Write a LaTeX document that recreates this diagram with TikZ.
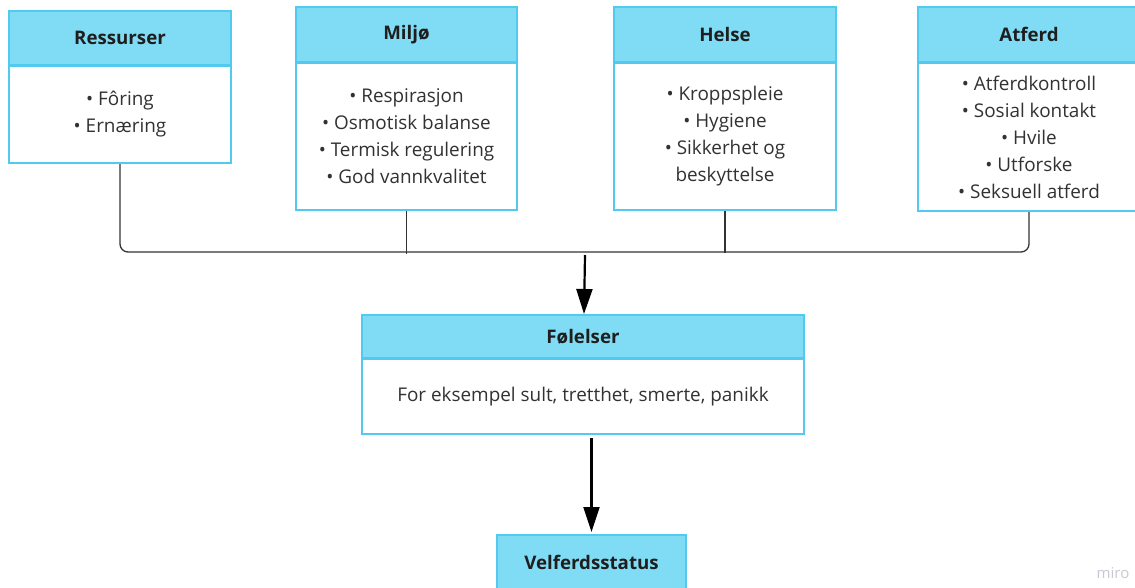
\documentclass[tikz,border=0pt]{standalone}
\usepackage{fontspec}
\setmainfont{Open Sans}
\usetikzlibrary{positioning,arrows.meta}

\definecolor{cardhead}{RGB}{128,220,245}
\definecolor{cardline}{RGB}{82,202,240}
\definecolor{titletext}{RGB}{30,30,30}
\definecolor{bodytext}{RGB}{50,50,50}
\definecolor{mirogrey}{RGB}{200,200,210}

\tikzset{
	head/.style={draw=cardline, fill=cardhead, line width=2pt, minimum width=222pt, minimum height=55pt, inner sep=0pt, text=titletext, font=\bfseries\fontsize{18.7}{22}\selectfont},
	body/.style={draw=cardline, fill=white, line width=2pt, minimum width=222pt, inner sep=0pt, align=center, text=bodytext, font=\fontsize{18.9}{27}\selectfont},
	bus/.style={line width=1.3pt, draw=black!80},
	arrow/.style={line width=2.2pt, -{Triangle[length=25pt,width=16pt]}}
}

\begin{document}
\begin{tikzpicture}[x=1pt,y=-1pt]
			
			\useasboundingbox (0,0) rectangle (1135,587);
			
			% top cards
			\node[head, minimum height=54pt] (ressH) at (120,38) {Ressurser};
			\node[body, minimum height=97pt, below=-1pt of ressH] (ressB) {• Fôring\\ • Ernæring};
			
			\node[head, minimum width=221pt] (miljoH) at (406.5,34.5) {Miljø};
			\node[body, minimum width=221pt, minimum height=147pt, below=-1pt of miljoH] (miljoB) {• Respirasjon\\ • Osmotisk balanse\\ • Termisk regulering\\ • God vannkvalitet};
			
			\node[head] (helseH) at (725,34.5) {Helse};
			\node[body, minimum height=147pt, below=-1pt of helseH] (helseB) {• Kroppspleie\\ • Hygiene\\ • Sikkerhet og\\ beskyttelse};
			
			\node[head] (atfH) at (1029,34.5) {Atferd};
			\node[body, minimum height=148pt, below=-1pt of atfH] (atfB) {• Atferdkontroll\\ • Sosial kontakt\\ • Hvile\\ • Utforske\\ • Seksuell atferd};
			
			% lower cards
			\node[head, minimum width=442pt, minimum height=43pt] (folH) at (583,336.5) {Følelser};
			\node[body, minimum width=442pt, minimum height=75pt, below=-1pt of folH] (folB) {For eksempel sult, tretthet, smerte, panikk};
			
			\node[head, minimum width=189pt] (velH) at (591.5,562.5) {Velferdsstatus};
			
			% bus line
			\coordinate (bus) at (585,252);
			\draw[bus, rounded corners=8pt] (ressB.south) |- (bus) -| (atfB.south);
			\draw[bus] (miljoB.south) -- ([yshift=-2pt]miljoB.south |- bus);
			\draw[bus] (helseB.south) -- ([yshift=-1pt]helseB.south |- bus);
			
			% arrows
			\draw[arrow] ([yshift=-3pt]bus) -- ([xshift=1pt]folH.north);
			\draw[arrow] ([yshift=-3pt]velH.north |- folB.south) -- ([yshift=2pt]velH.north);
			
			\node[text=mirogrey, font=\fontsize{15}{15}\selectfont] (miro) at (1113,573) {miro};
			
		\end{tikzpicture}
\end{document}
